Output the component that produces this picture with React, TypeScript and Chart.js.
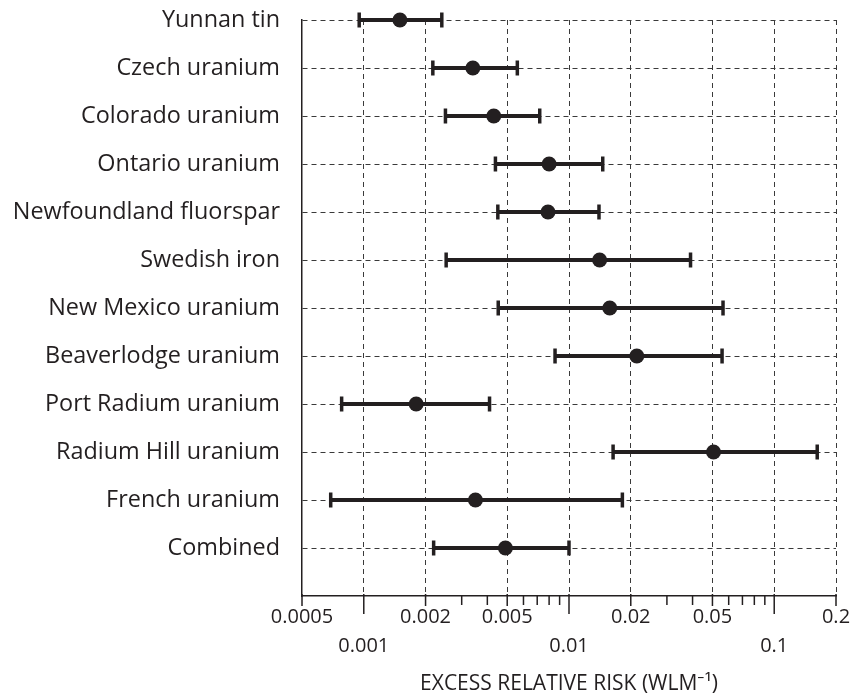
import React, { useEffect, useRef } from 'react';
import { Chart, registerables } from 'chart.js';

Chart.register(...registerables);

const categories = [
  'Yunnan tin',
  'Czech uranium',
  'Colorado uranium',
  'Ontario uranium',
  'Newfoundland fluorspar',
  'Swedish iron',
  'New Mexico uranium',
  'Beaverlodge uranium',
  'Port Radium uranium',
  'Radium Hill uranium',
  'French uranium',
  'Combined',
];
const estimates = [0.0015, 0.0034, 0.0043, 0.008, 0.0079, 0.0141, 0.0158, 0.0214, 0.0018, 0.0506, 0.0035, 0.0049];
const lowerCI = [0.00095, 0.00217, 0.0025, 0.00438, 0.0045, 0.00252, 0.00452, 0.00855, 0.00078, 0.0164, 0.00069, 0.00219];
const upperCI = [0.0024, 0.0056, 0.0072, 0.0146, 0.014, 0.0391, 0.0563, 0.0557, 0.0041, 0.162, 0.0182, 0.01];

const xTickValues = [
  0.0005, 0.001, 0.002, 0.003, 0.004, 0.005, 0.006, 0.007, 0.008, 0.009, 0.01,
  0.02, 0.03, 0.04, 0.05, 0.06, 0.07, 0.08, 0.09, 0.1, 0.2,
];
const upperRowLabels = [0.0005, 0.002, 0.005, 0.02, 0.05, 0.2];
const lowerRowLabels = [0.001, 0.01, 0.1];
const gridValues = [0.001, 0.002, 0.005, 0.01, 0.02, 0.05, 0.1, 0.2];
const xTitle = 'EXCESS RELATIVE RISK (WLM\u207B\u00B9)';

const INK = '#231f20';
const GRID = '#3a3a3a';
const FONT = '"Open Sans", "Noto Sans", sans-serif';

// Draws the x-axis tick marks: long at decades, medium at labelled values, short otherwise.
const tickMarksPlugin = {
  id: 'tickMarks',
  afterDraw(chart: any) {
    const xs = chart.scales.x;
    const ctx = chart.ctx;
    ctx.save();
    ctx.strokeStyle = INK;
    ctx.lineWidth = 1.5;
    xTickValues.forEach((v) => {
      const px = xs.getPixelForValue(v);
      let y0 = xs.top;
      let y1 = xs.top + 9;
      if (lowerRowLabels.includes(v)) {
        y0 = xs.top - 2;
        y1 = xs.top + 18;
      } else if (upperRowLabels.includes(v)) {
        y0 = xs.top - 2;
        y1 = xs.top + 10;
      }
      ctx.beginPath();
      ctx.moveTo(px, y0);
      ctx.lineTo(px, y1);
      ctx.stroke();
    });
    ctx.restore();
  },
};

export default function App() {
  const ref = useRef<HTMLCanvasElement | null>(null);

  useEffect(() => {
    if (!ref.current) return;
    const errorSets = categories.map((c, i) => ({
      label: c + ' CI',
      showLine: true,
      clip: false,
      data: [
        { x: lowerCI[i], y: i },
        { x: upperCI[i], y: i },
      ],
      borderColor: INK,
      borderWidth: 4,
      pointStyle: 'line',
      pointRotation: 90,
      pointRadius: 7.5,
      pointBorderWidth: 3.5,
      pointBorderColor: INK,
      pointBackgroundColor: INK,
      order: 1,
    }));

    const chart = new Chart(ref.current, {
      type: 'scatter',
      data: {
        datasets: [
          {
            label: 'ERR',
            clip: false,
            data: estimates.map((v, i) => ({ x: v, y: i })),
            pointRadius: 7.5,
            pointBackgroundColor: INK,
            pointBorderWidth: 0,
            order: 0,
          } as any,
          ...(errorSets as any[]),
        ],
      },
      options: {
        animation: false,
        responsive: true,
        maintainAspectRatio: false,
        layout: { padding: { top: 20, right: 15, left: 0, bottom: 0 } },
        plugins: { legend: { display: false }, tooltip: { enabled: false } },
        scales: {
          x: {
            type: 'logarithmic',
            min: 0.0005,
            max: 0.2,
            afterBuildTicks: (s: any) => {
              s.ticks = xTickValues.map((v) => ({ value: v }));
            },
            afterFit: (s: any) => {
              s.height = 103;
            },
            ticks: {
              autoSkip: false,
              maxRotation: 0,
              minRotation: 0,
              padding: 0,
              color: INK,
              font: { family: FONT, size: 20, lineHeight: '14.5px' } as any,
              callback: (value: any) => {
                const v = Number(value);
                if (upperRowLabels.includes(v)) return String(v);
                if (lowerRowLabels.includes(v)) return ['', '', String(v)];
                return '';
              },
            },
            grid: {
              color: (ctx: any) =>
                ctx.tick && gridValues.includes(ctx.tick.value) ? GRID : 'rgba(0,0,0,0)',
              lineWidth: 1,
              tickColor: 'rgba(0,0,0,0)',
              tickLength: 14,
              drawTicks: true,
            },
            border: { display: true, color: INK, width: 1.5, dash: [5, 4] },
            title: {
              display: true,
              text: xTitle,
              color: INK,
              font: { family: FONT, size: 21 },
              padding: { top: 0, bottom: 2 },
            },
          } as any,
          y: {
            type: 'linear',
            min: 0,
            max: 12,
            reverse: true,
            afterFit: (s: any) => {
              s.width = 302;
            },
            afterBuildTicks: (s: any) => {
              s.ticks = Array.from({ length: 13 }, (_, i) => ({ value: i }));
            },
            ticks: {
              autoSkip: false,
              padding: 0,
              color: INK,
              font: { family: FONT, size: 23.4 },
              callback: (value: any) => categories[Number(value)] ?? '',
            },
            grid: {
              color: (ctx: any) =>
                ctx.tick && ctx.tick.value === 12 ? 'rgba(0,0,0,0)' : GRID,
              lineWidth: 1,
              drawTicks: true,
              tickLength: 22,
              tickColor: 'rgba(0,0,0,0)',
            },
            border: { display: true, color: INK, width: 1.5, dash: [5, 4] },
          } as any,
        },
      },
      plugins: [tickMarksPlugin],
    });
    return () => chart.destroy();
  }, []);

  return (
    <div style={{ position: 'absolute', left: 0, top: 0, width: 851, height: 699 }}>
      <canvas ref={ref} style={{ width: '100%', height: '100%' }} />
    </div>
  );
}
